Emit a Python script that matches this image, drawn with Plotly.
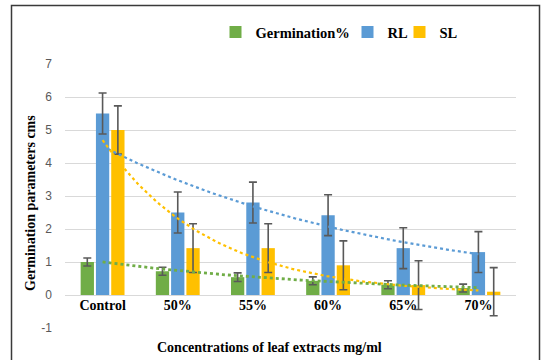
import numpy as np
import plotly.graph_objects as go

categories = ["Control", "50%", "55%", "60%", "65%", "70%"]
germination = [1.0, 0.72, 0.54, 0.43, 0.31, 0.21]
germination_err = [0.12, 0.12, 0.13, 0.12, 0.12, 0.12]
rl = [5.5, 2.5, 2.8, 2.42, 1.42, 1.3]
rl_err = [0.62, 0.62, 0.62, 0.62, 0.62, 0.62]
sl = [5.0, 1.42, 1.42, 0.9, 0.3, 0.1]
sl_err = [0.73, 0.74, 0.74, 0.74, 0.74, 0.73]
y_ticks = [-1, 0, 1, 2, 3, 4, 5, 6, 7]
y_tick_labels = ["-1", "0", "1", "2", "3", "4", "5", "6", "7"]

GREEN = "#70AD47"
BLUE = "#5B9BD5"
YELLOW = "#FFC000"
ERR = "#595959"

# plot-area geometry (pixels)
L, R, T, B = 65, 516, 64, 328
PW, PH = R - L, B - T

x = np.arange(1, len(categories) + 1)

fig = go.Figure()
for name, vals, errs, col, lg in [("Germination%", germination, germination_err, GREEN, "legend"),
                                  ("RL", rl, rl_err, BLUE, "legend2"),
                                  ("SL", sl, sl_err, YELLOW, "legend3")]:
    fig.add_trace(go.Bar(
        x=x, y=vals, name=name, marker_color=col, marker_line_width=0, legend=lg,
        error_y=dict(type="data", array=errs, color=ERR, thickness=1.6, width=4),
    ))

# Excel-style exponential trendlines fitted from the series
xs = np.linspace(1, 6, 120)
for vals, col, w in [(rl, BLUE, 2.2), (sl, YELLOW, 2.2), (germination, GREEN, 2.8)]:
    b, a = np.polyfit(x, np.log(vals), 1)
    fig.add_trace(go.Scatter(
        x=xs, y=np.exp(a + b * xs), mode="lines", showlegend=False,
        line=dict(color=col, width=w, dash="dot"), hoverinfo="skip",
    ))

serif_bold = dict(family="Liberation Serif", size=14, color="black", weight="bold")
legend_font = dict(family="Liberation Serif", size=14.5, color="black", weight="bold")


def px_x(p):
    return (p - L) / PW


def px_y(p):
    return (B - p) / PH


def leg(text_px):
    return dict(orientation="h", x=px_x(text_px - 40.5), xanchor="left", y=px_y(32),
                yanchor="middle", font=legend_font, bgcolor="rgba(0,0,0,0)",
                itemclick=False)


fig.update_layout(
    width=544, height=360,
    margin=dict(l=L, r=544 - R, t=T, b=360 - B, autoexpand=False),
    paper_bgcolor="white", plot_bgcolor="white",
    barmode="group", bargap=0.39, bargroupgap=0.13,
    showlegend=True,
    legend=leg(256),
    legend2=leg(388),
    legend3=leg(440),
    xaxis=dict(range=[0.5, 6.5], tickvals=list(x), ticktext=categories,
               anchor="free", position=px_y(295), showgrid=False, zeroline=False,
               showline=False, ticks="", tickfont=serif_bold, automargin=False),
    yaxis=dict(range=[-1, 7], tickvals=y_ticks, ticktext=y_tick_labels, showgrid=True,
               gridcolor="#D9D9D9", gridwidth=1, zeroline=False, showline=False, ticks="",
               tickfont=dict(family="Liberation Sans", size=12, color="#595959"),
               ticklabelstandoff=12, automargin=False),
    annotations=[
        dict(text="Germination parameters cms", textangle=-90, xref="paper", yref="paper",
             x=px_x(30), y=px_y(203), xanchor="center", yanchor="middle",
             showarrow=False, font=serif_bold),
        dict(text="Concentrations of leaf extracts mg/ml", xref="paper", yref="paper",
             x=px_x(269), y=px_y(347), xanchor="center", yanchor="middle",
             showarrow=False, font=serif_bold),
    ],
    shapes=[dict(type="rect", xref="paper", yref="paper",
                 x0=px_x(11.5), x1=px_x(539.5),
                 y0=px_y(366), y1=px_y(5.5),
                 line=dict(color="#3A3A3A", width=1.5), fillcolor="rgba(0,0,0,0)",
                 layer="above")],
)

fig.write_html("out.html", config={"displayModeBar": False},
               post_script="document.body.style.margin='0';document.body.style.overflow='hidden';")
